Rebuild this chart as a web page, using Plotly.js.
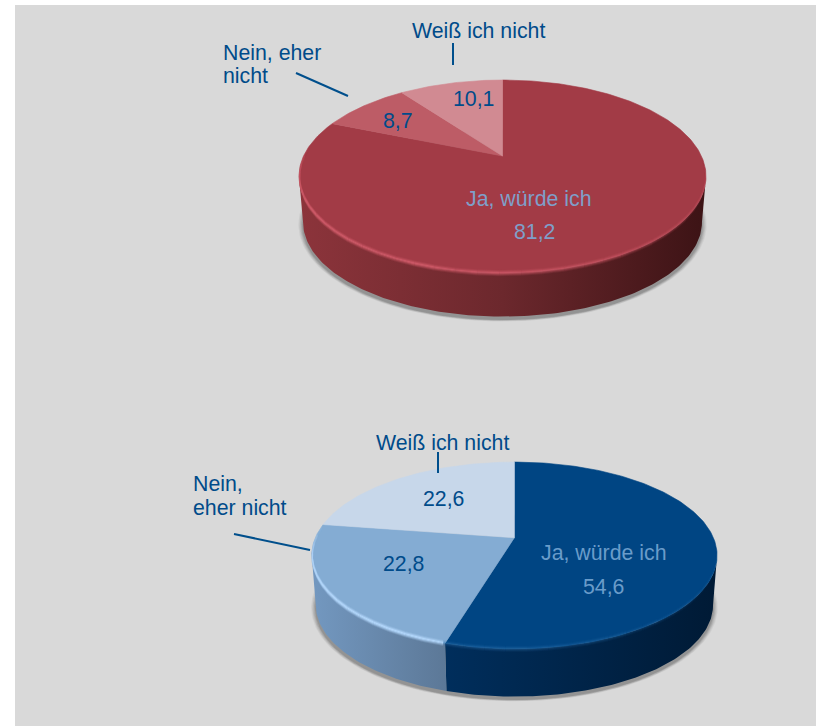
<!DOCTYPE html>
<html>
<head>
<meta charset="utf-8">
<script src="https://cdn.plot.ly/plotly-3.0.1.min.js"></script>
<style>html,body{margin:0;padding:0;background:#fff}#chart{width:816px;height:726px}</style>
</head>
<body>
<div id="chart"></div>
<script>
// ---- data ----
const categoriesTop = ['Ja, würde ich', 'Nein, eher<br>nicht', 'Weiß ich nicht'];
const valuesTop = [81.2, 8.7, 10.1];
const categoriesBottom = ['Ja, würde ich', 'Nein,<br>eher nicht', 'Weiß ich nicht'];
const valuesBottom = [54.6, 22.8, 22.6];

// ---- styles and geometry ----
const colorsTop = ['#a23b46', '#bd5c66', '#d18a92'];
const colorsBottom = ['#004583', '#84acd3', '#c7d7ea'];
const wallTop = [[[0, '#8c343b'], [0.5, '#6c282d'], [1, '#3c1315']], null, null];
const wallBottom = [[[0, '#002e5c'], [1, '#001a35']], [[0, '#7398c0'], [1, '#5c7897']], null];
const rimTop = [{rgb: '206,90,104', a: 0.95}, {rgb: '206,90,104', a: 0.95}, {rgb: '206,90,104', a: 0.95}];
const rimBottom = [{rgb: '50,120,180', a: 0.45}, {rgb: '178,214,250', a: 1}, {rgb: '178,214,250', a: 1}];
const geoTop = {cx: 502.5, y0: 156, R: 198.9, S: 92.1, k: 0.2124, depth: 46};
const geoBottom = {cx: 514.4, y0: 537.7, R: 199, S: 90, k: 0.19, depth: 50};
const TEXT = '#004b8a', SOFT_TOP = '#7f9fc9', SOFT_BOTTOM = '#6a9cca', BG = '#d9d9d9';
const FONT = '"Liberation Sans", Arial, sans-serif', FS = 21.3;
const RIM_LAYERS = [[-2, 0.2], [-1, 0.55], [0, 1], [1, 0.85], [2, 0.5], [3, 0.2]];
const RIM_STEP = 5;

const rad = d => d * Math.PI / 180;
function project(deg, g, scale, dy) {
  const u = Math.sin(rad(deg)), v = Math.cos(rad(deg)), den = 1 + g.k * v;
  return [g.cx + g.R * scale * u / den, g.y0 + dy - g.S * scale * v / den];
}
function arc(a, b, g, scale, dy) {
  const n = Math.max(2, Math.ceil(Math.abs(b - a))), xs = [], ys = [];
  for (let i = 0; i <= n; i++) {
    const p = project(a + (b - a) * i / n, g, scale, dy);
    xs.push(p[0]); ys.push(p[1]);
  }
  return [xs, ys];
}
const base = {type: 'scatter', mode: 'lines', hoverinfo: 'skip', showlegend: false};

function pieTraces(values, colors, walls, rim, g) {
  const out = [];
  const ext = Math.acos(-g.k) * 180 / Math.PI;
  const front = [ext, 360 - ext];
  // soft cast shadow
  for (let i = 0; i < 5; i++) {
    const e = arc(0, 360, g, 0.983 + i * 0.005, g.depth + 3 - i * 0.2);
    out.push({...base, x: e[0], y: e[1], fill: 'toself', line: {width: 0},
      fillcolor: 'rgba(50,50,50,' + (0.14 - i * 0.02) + ')'});
  }
  let start = 0;
  const spans = values.map(v => { const s = [start, start + v * 3.6]; start += v * 3.6; return s; });
  // walls
  spans.forEach((s, i) => {
    const a = Math.max(s[0], front[0]), b = Math.min(s[1], front[1]);
    if (b <= a || !walls[i]) return;
    const t = arc(a, b, g, 1, 0), w = arc(b, a, g, 0.98, g.depth);
    out.push({...base, x: t[0].concat(w[0]), y: t[1].concat(w[1]), fill: 'toself', line: {width: 0},
      fillgradient: {type: 'horizontal', colorscale: walls[i]}});
  });
  // faces
  spans.forEach((s, i) => {
    const f = arc(s[0], s[1], g, 1, 0);
    out.push({...base, x: [g.cx].concat(f[0], [g.cx]), y: [g.y0].concat(f[1], [g.y0]),
      fill: 'toself', fillcolor: colors[i], line: {width: 0.6, color: colors[i]}});
  });
  // soft bevel along the front edge: bright at the left, dying out to the right
  const from = front[1] + 18, to = front[0] - 10;
  RIM_LAYERS.forEach(layer => {
    for (let d = from; d > to; d -= RIM_STEP) {
      const end = Math.max(to, d - RIM_STEP), mid = (d + end) / 2;
      const idx = spans.findIndex(s => mid >= s[0] && mid < s[1]);
      const t = (from - mid) / (from - to);
      const fade = Math.min(1, t * 5) * Math.min(1, (1 - t) * 1.7);
      const c = rim[idx < 0 ? 0 : idx];
      const seg = arc(d, end, g, 0.997, layer[0]);
      out.push({...base, x: seg[0], y: seg[1],
        line: {width: 1.2, color: 'rgba(' + c.rgb + ',' + (c.a * fade * layer[1]).toFixed(3) + ')'}});
    }
  });
  return out;
}

const data = pieTraces(valuesTop, colorsTop, wallTop, rimTop, geoTop)
  .concat(pieTraces(valuesBottom, colorsBottom, wallBottom, rimBottom, geoBottom));

const label = (text, x, y, color, anchor) => ({text, x, y, xref: 'x', yref: 'y', showarrow: false,
  xanchor: anchor || 'center', yanchor: 'middle', align: 'left', font: {family: FONT, size: FS, color: color || TEXT}});
const num = v => v.toFixed(1).replace('.', ',');
const lines = s => s.split('<br>');

const annotations = [
  label(categoriesTop[2], 478, 31),
  label(lines(categoriesTop[1])[0], 221, 53, TEXT, 'left'),
  label(lines(categoriesTop[1])[1], 221, 76, TEXT, 'left'),
  label(num(valuesTop[2]), 473, 99),
  label(num(valuesTop[1]), 398, 121),
  label(categoriesTop[0], 528, 199, SOFT_TOP),
  label(num(valuesTop[0]), 534, 232, SOFT_TOP),
  label(categoriesBottom[2], 442, 443),
  label(lines(categoriesBottom[1])[0], 191, 484, TEXT, 'left'),
  label(lines(categoriesBottom[1])[1], 191, 508, TEXT, 'left'),
  label(num(valuesBottom[2]), 443, 499),
  label(num(valuesBottom[1]), 403, 564),
  label(categoriesBottom[0], 603, 553, SOFT_BOTTOM),
  label(num(valuesBottom[0]), 603, 587, SOFT_BOTTOM)
];
const leader = (x0, y0, x1, y1) => ({type: 'line', xref: 'x', yref: 'y', x0, y0, x1, y1,
  line: {color: '#004f8c', width: 2}});
const shapes = [leader(296, 73, 348, 96), leader(453, 43, 453, 65), leader(234, 534, 310, 550), leader(438, 452, 438, 473)];

const axis = {visible: false, fixedrange: true, showgrid: false, zeroline: false};
Plotly.newPlot('chart', data, {
  width: 816, height: 726, margin: {l: 15, r: 0, t: 5, b: 0},
  paper_bgcolor: '#ffffff', plot_bgcolor: BG, showlegend: false,
  xaxis: {...axis, range: [15, 816]}, yaxis: {...axis, range: [726, 5]},
  annotations, shapes
}, {displayModeBar: false, staticPlot: true});
</script>
</body>
</html>
